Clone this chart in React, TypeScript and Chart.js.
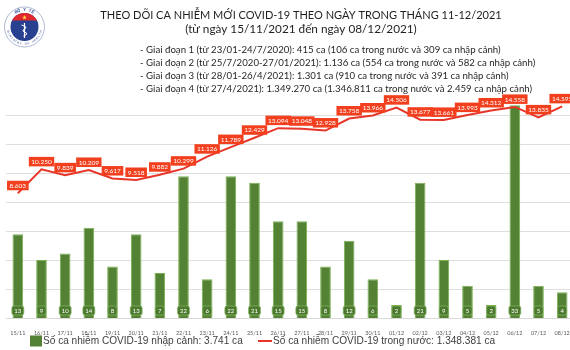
import React, { useEffect, useRef } from 'react';
import { Chart, registerables } from 'chart.js';

Chart.register(...registerables);

const categories = ['15/11', '16/11', '17/11', '18/11', '19/11', '20/11', '21/11', '22/11', '23/11', '24/11', '25/11', '26/11', '27/11', '28/11', '29/11', '30/11', '01/12', '02/12', '03/12', '04/12', '05/12', '06/12', '07/12', '08/12'];
const importedCases = [13, 9, 10, 14, 8, 13, 7, 22, 6, 22, 21, 15, 15, 8, 12, 6, 2, 21, 9, 5, 2, 33, 5, 4];
const domesticCases = [8603, 10250, 9839, 10209, 9617, 9518, 9882, 10299, 11126, 11789, 12429, 13094, 13048, 12928, 13758, 13966, 14506, 13677, 13661, 13993, 14312, 14558, 13835, 14595];
const titleLines = [
  'THEO DÕI CA NHIỄM MỚI COVID-19 THEO NGÀY TRONG THÁNG 11-12/2021',
  '(từ ngày 15/11/2021 đến ngày 08/12/2021)',
];
const infoLines = [
  '- Giai đoạn 1 (từ 23/01-24/7/2020): 415 ca (106 ca trong nước và 309 ca nhập cảnh)',
  '- Giai đoạn 2 (từ 25/7/2020-27/01/2021): 1.136 ca (554 ca trong nước và 582 ca nhập cảnh)',
  '- Giai đoạn 3 (từ 28/01-26/4/2021): 1.301 ca (910 ca trong nước và 391 ca nhập cảnh)',
  '- Giai đoạn 4 (từ 27/4/2021): 1.349.270 ca (1.346.811 ca trong nước và 2.459 ca nhập cảnh)',
];
const legendLabels = [
  'Số ca nhiễm COVID-19 nhập cảnh: 3.741 ca',
  'Số ca nhiễm COVID-19 trong nước: 1.348.381 ca',
];
const logoTop = 'BỘ Y TẾ';
const logoBottom = 'MINISTRY OF HEALTH';

const BAR_FILL = '#548235';
const BAR_BORDER = '#79b150';
const LINE_COLOR = '#e8352a';
const LABEL_RED = '#f2401f';

const fmt = (v: number) => String(v).replace(/\B(?=(\d{3})+(?!\d))/g, '.');

function fitSize(ctx: CanvasRenderingContext2D, text: string, family: string, weight: string, width: number) {
  ctx.font = `${weight} 20px ${family}`;
  const w = ctx.measureText(text).width;
  return (20 * width) / w;
}

function drawArcText(ctx: CanvasRenderingContext2D, text: string, cx: number, cy: number, r: number, center: number, spread: number, top: boolean) {
  const n = text.length;
  for (let i = 0; i < n; i++) {
    const t = n === 1 ? 0 : i / (n - 1) - 0.5;
    const a = top ? center + t * spread : center - t * spread;
    ctx.save();
    ctx.translate(cx + r * Math.cos(a), cy + r * Math.sin(a));
    ctx.rotate(top ? a + Math.PI / 2 : a - Math.PI / 2);
    ctx.fillText(text[i], 0, 0);
    ctx.restore();
  }
}

const headerPlugin = {
  id: 'header',
  afterDraw(chart: any) {
    const ctx: CanvasRenderingContext2D = chart.ctx;
    ctx.save();
    // logo
    const cx = 24.5, cy = 27, R = 20, r = 14;
    ctx.beginPath();
    ctx.arc(cx, cy, R, 0, Math.PI * 2);
    ctx.fillStyle = '#ffffff';
    ctx.fill();
    ctx.lineWidth = 0.8;
    ctx.strokeStyle = '#9aa6c8';
    ctx.stroke();
    ctx.beginPath();
    ctx.arc(cx, cy, r, 0, Math.PI * 2);
    ctx.fillStyle = '#27408f';
    ctx.fill();
    ctx.save();
    ctx.beginPath();
    ctx.arc(cx, cy, r, 0, Math.PI * 2);
    ctx.clip();
    ctx.fillStyle = '#e0282e';
    ctx.fillRect(cx - r, cy - r, 2 * r, 7.5);
    ctx.restore();
    // star
    ctx.beginPath();
    for (let i = 0; i < 10; i++) {
      const rad = i % 2 === 0 ? 2.4 : 1;
      const a = -Math.PI / 2 + (i * Math.PI) / 5;
      const px = cx + rad * Math.cos(a), py = cy - 9.5 + rad * Math.sin(a);
      if (i === 0) ctx.moveTo(px, py); else ctx.lineTo(px, py);
    }
    ctx.closePath();
    ctx.fillStyle = '#ffe14a';
    ctx.fill();
    // caduceus
    ctx.strokeStyle = '#ffffff';
    ctx.lineWidth = 1.2;
    ctx.beginPath();
    ctx.moveTo(cx, cy - 4);
    ctx.lineTo(cx, cy + 11);
    ctx.stroke();
    ctx.lineWidth = 1;
    ctx.beginPath();
    ctx.moveTo(cx - 3, cy - 2);
    ctx.quadraticCurveTo(cx + 4, cy, cx, cy + 2);
    ctx.quadraticCurveTo(cx - 4, cy + 4, cx + 2, cy + 6);
    ctx.quadraticCurveTo(cx + 3, cy + 8, cx - 1, cy + 9);
    ctx.stroke();
    ctx.fillStyle = '#27408f';
    ctx.font = 'bold 4px "Liberation Sans"';
    ctx.textAlign = 'center';
    ctx.textBaseline = 'middle';
    drawArcText(ctx, logoTop, cx, cy, 17, -Math.PI / 2, 1.0, true);
    ctx.font = '3px "Liberation Sans"';
    drawArcText(ctx, logoBottom, cx, cy, 17, Math.PI / 2, 2.6, false);

    // title
    ctx.fillStyle = '#1f1f1f';
    ctx.textAlign = 'center';
    ctx.textBaseline = 'middle';
    let s = fitSize(ctx, titleLines[0], 'Lato', 'normal', 402);
    ctx.font = `normal ${s}px Lato`;
    ctx.fillText(titleLines[0], 301, 15);
    s = fitSize(ctx, titleLines[1], 'Lato', 'normal', 232);
    ctx.font = `normal ${s}px Lato`;
    ctx.fillText(titleLines[1], 301, 29.5);

    // info lines
    ctx.fillStyle = '#262626';
    ctx.textAlign = 'left';
    s = fitSize(ctx, infoLines[3], 'Lato', 'normal', 393);
    ctx.font = `normal ${s}px Lato`;
    const ys = [50, 63, 76, 89];
    infoLines.forEach((t, i) => ctx.fillText(t, 140, ys[i]));

    // legend
    const ly = 341;
    ctx.fillStyle = BAR_FILL;
    ctx.fillRect(30, ly - 5.5, 12, 11);
    ctx.fillStyle = '#404040';
    s = fitSize(ctx, legendLabels[0], '"Liberation Sans"', 'normal', 200);
    ctx.font = `normal ${s}px "Liberation Sans"`;
    ctx.fillText(legendLabels[0], 43, ly + 0.5);
    ctx.strokeStyle = LINE_COLOR;
    ctx.lineWidth = 2;
    ctx.beginPath();
    ctx.moveTo(258, ly);
    ctx.lineTo(272, ly);
    ctx.stroke();
    ctx.fillText(legendLabels[1], 273, ly + 0.5);
    ctx.restore();
  },
};

const labelPlugin = {
  id: 'valueLabels',
  afterDatasetsDraw(chart: any) {
    const ctx: CanvasRenderingContext2D = chart.ctx;
    ctx.save();
    ctx.textAlign = 'center';
    ctx.textBaseline = 'middle';
    // bar labels
    const barMeta = chart.getDatasetMeta(0);
    ctx.font = '6px Lato';
    barMeta.data.forEach((el: any, i: number) => {
      const t = String(importedCases[i]);
      const w = Math.max(ctx.measureText(t).width + 5, 9);
      const h = 9;
      const y = 310.5;
      ctx.beginPath();
      ctx.roundRect(el.x - w / 2, y - h / 2, w, h, 2);
      ctx.fillStyle = '#4b792d';
      ctx.fill();
      ctx.lineWidth = 0.7;
      ctx.strokeStyle = '#86b866';
      ctx.stroke();
      ctx.fillStyle = '#ffffff';
      ctx.fillText(t, el.x, y + 0.3);
    });
    // line labels
    const lineMeta = chart.getDatasetMeta(1);
    ctx.font = '6.5px Lato';
    lineMeta.data.forEach((el: any, i: number) => {
      const t = fmt(domesticCases[i]);
      const w = ctx.measureText(t).width + 5;
      const h = 9.5;
      const cy = el.y - 3 - h / 2;
      ctx.fillStyle = LABEL_RED;
      ctx.fillRect(el.x - w / 2, cy - h / 2, w, h);
      ctx.fillStyle = '#ffffff';
      ctx.fillText(t, el.x, cy + 0.3);
    });
    ctx.restore();
  },
};

export default function App() {
  const ref = useRef<HTMLCanvasElement>(null);
  useEffect(() => {
    if (!ref.current) return;
    const chart = new Chart(ref.current, {
      type: 'bar',
      data: {
        labels: categories,
        datasets: [
          {
            type: 'bar',
            label: legendLabels[0],
            data: importedCases,
            backgroundColor: BAR_FILL,
            borderColor: BAR_BORDER,
            borderWidth: 1,
            barPercentage: 0.45,
            categoryPercentage: 1,
            yAxisID: 'y2',
            order: 2,
          },
          {
            type: 'line',
            label: legendLabels[1],
            data: domesticCases,
            borderColor: LINE_COLOR,
            borderWidth: 2,
            pointRadius: 0,
            tension: 0,
            yAxisID: 'y',
            order: 1,
          },
        ],
      },
      options: {
        responsive: false,
        maintainAspectRatio: false,
        animation: false,
        devicePixelRatio: 1,
        layout: { padding: { top: 86, left: 6, right: 6, bottom: 0 } },
        plugins: { legend: { display: false }, tooltip: { enabled: false }, title: { display: false } },
        scales: {
          x: {
            offset: true,
            grid: { display: false },
            border: { display: true, color: '#d9d9d9' },
            ticks: { font: { size: 5.5, family: 'Lato' }, color: '#595959', padding: 4, maxRotation: 0, autoSkip: false },
            afterFit: (scale: any) => { scale.height = 32; },
          },
          y: {
            position: 'left',
            min: 0,
            max: 16000,
            ticks: { display: false, stepSize: 2000 },
            border: { display: false },
            grid: {
              drawTicks: false,
              color: (c: any) => (c.tick && c.tick.value === 16000 ? 'rgba(0,0,0,0)' : '#dedede'),
              lineWidth: 1,
            },
            afterFit: (scale: any) => { scale.width = 0; },
          },
          y2: {
            display: false,
            min: 0,
            max: 36,
          },
        },
      },
      plugins: [labelPlugin, headerPlugin],
    } as any);
    return () => chart.destroy();
  }, []);
  return (
    <div style={{ position: 'absolute', left: 0, top: 0, width: 570, height: 350, overflow: 'hidden', background: '#ffffff' }}>
      <canvas ref={ref} width={580} height={350} style={{ width: 580, height: 350, display: 'block' }} />
    </div>
  );
}
